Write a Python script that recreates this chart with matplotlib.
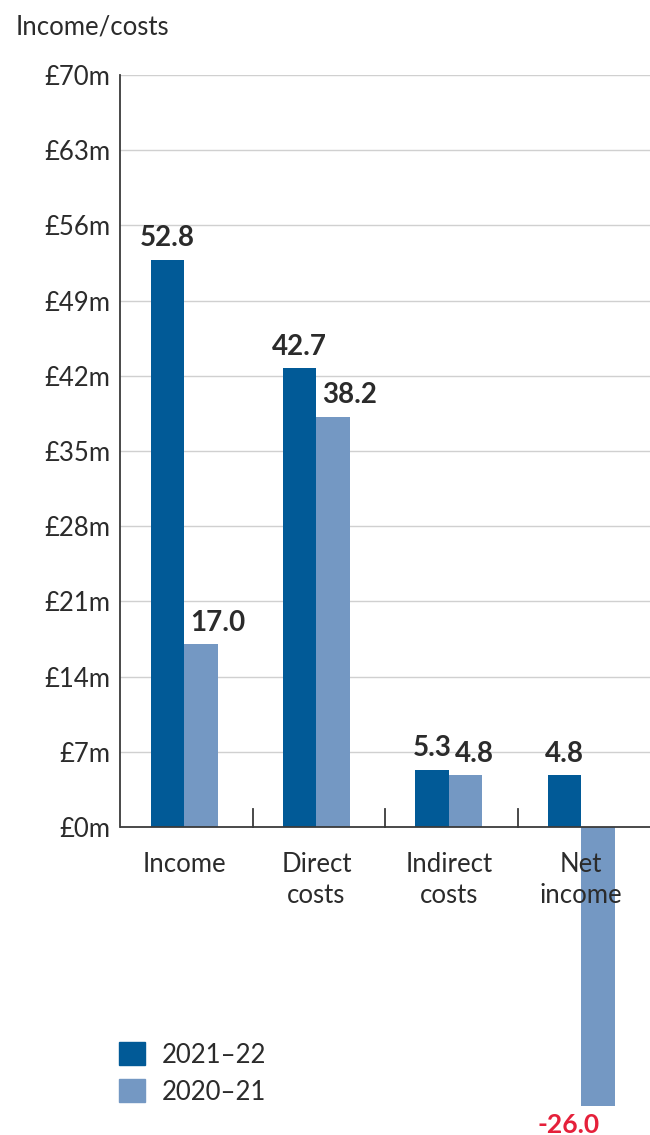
import matplotlib
matplotlib.use('Agg')
import matplotlib.pyplot as plt
from matplotlib.patches import Patch
import numpy as np

# Data
categories = ['Income', 'Direct\ncosts', 'Indirect\ncosts', 'Net\nincome']
values_2122 = [52.8, 42.7, 5.3, 4.8]
values_2021 = [17.0, 38.2, 4.8, -26.0]
series_names = ['2021\u201322', '2020\u201321']
y_ticks = [0, 7, 14, 21, 28, 35, 42, 49, 56, 63, 70]

DARK = '#015a97'
LIGHT = '#7498c3'
TEXT = '#2b2b2b'
RED = '#e5203a'

plt.rcParams['font.family'] = ['Lato', 'DejaVu Sans']

fig = plt.figure(figsize=(6.5, 11.35), dpi=100)
ax = fig.add_axes([120/650, 0.0, 1 - 120/650, 1 - 75/1135])

x = np.arange(len(categories))
w = 0.253

ax.bar(x - w/2, values_2122, w, color=DARK, zorder=3)
ax.bar(x + w/2, values_2021, w, color=LIGHT, zorder=3)

# value labels: dark bars centred, light bars start near the bar's left edge
for xi, v in zip(x - w/2, values_2122):
    ax.text(xi, v + 0.8, '{:.1f}'.format(v), ha='center', va='bottom',
            fontsize=20, fontweight='bold', color=TEXT)
for xi, v in zip(x + w/2, values_2021):
    if v >= 0:
        ax.text(xi - w/2 + 0.045, v + 0.8, '{:.1f}'.format(v), ha='left',
                va='bottom', fontsize=20, fontweight='bold', color=TEXT)
    else:
        # negative value sits under the bar end, right edge at bar centre
        ax.text(xi + 0.01, v - 2.45, '{:.1f}'.format(v), ha='right',
                va='baseline', fontsize=19, fontweight='bold', color=RED,
                clip_on=False)

ax.set_xlim(-0.484, 3.52)
ax.set_ylim(-28.68, 70)

# grid
for t in y_ticks[1:]:
    ax.axhline(t, color='#d0d0d0', lw=1.0, zorder=1)
ax.axhline(0, color='#3a3a3a', lw=1.3, zorder=4)

ax.set_yticks(y_ticks)
ax.set_yticklabels(['\u00a3{}m'.format(t) for t in y_ticks], fontsize=18.5,
                   color=TEXT)
ax.tick_params(axis='y', length=0, pad=7)

ax.set_xticks([])
for sp in ['top', 'right', 'bottom']:
    ax.spines[sp].set_visible(False)
ax.spines['left'].set_bounds(0, 70)
ax.spines['left'].set_color('#3a3a3a')
ax.spines['left'].set_linewidth(1.3)

# separator ticks between groups
for sx in [0.52, 1.52, 2.52]:
    ax.plot([sx, sx], [0, 1.7], color='#3a3a3a', lw=1.3, zorder=4)

# category labels (drawn on top of bars)
for xi, c in zip(x, categories):
    ax.text(xi, -2.3, c, ha='center', va='top', fontsize=18.5, color=TEXT,
            linespacing=1.3, zorder=5)

fig.text(16/650, 1 - 27/1135, 'Income/costs', ha='left', va='center',
         fontsize=18.5, color=TEXT)

handles = [Patch(color=DARK), Patch(color=LIGHT)]
leg = fig.legend(handles, series_names, loc='upper left',
                 bbox_to_anchor=(96/650, 1 - 1019/1135), frameon=False,
                 fontsize=18.5, handlelength=1.02, handleheight=1.02,
                 handletextpad=0.65, labelspacing=0.45)
for t in leg.get_texts():
    t.set_color(TEXT)

fig.savefig('out.png', dpi=100)
